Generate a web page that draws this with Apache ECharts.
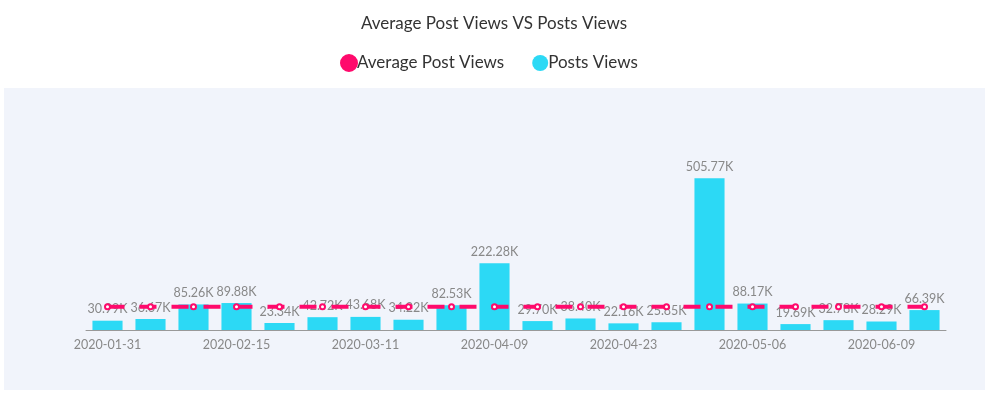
<!DOCTYPE html>
<html><head><meta charset="utf-8">
<script src="https://cdn.jsdelivr.net/npm/echarts@6/dist/echarts.min.js"></script>
<style>html,body{margin:0;padding:0;background:#fff}#c{width:988px;height:393px}</style>
</head><body><div id="c"></div>
<script>
var categories = ['2020-01-31','2020-02-05','2020-02-10','2020-02-15','2020-02-20','2020-02-28','2020-03-11','2020-03-20','2020-03-30','2020-04-09','2020-04-14','2020-04-18','2020-04-23','2020-04-28','2020-05-02','2020-05-06','2020-05-15','2020-05-28','2020-06-09','2020-06-20'];
var postsViews = [30.99,36.67,85.26,89.88,23.34,42.72,43.68,34.22,82.53,222.28,29.70,38.40,22.16,25.85,505.77,88.17,19.69,32.78,28.29,66.39];
var avgValue = 77.44;
var averageViews = categories.map(function(){return avgValue;});

var chart = echarts.init(document.getElementById('c'));
chart.setOption({
  backgroundColor:'#fff',
  textStyle:{fontFamily:'Lato'},
  graphic:[{type:'rect',left:4,top:88,z:-10,shape:{width:981,height:302},style:{fill:'#f1f4fb'},silent:true}],
  title:{text:'Average Post Views VS Posts Views',left:'center',top:10,textStyle:{fontFamily:'Lato',fontSize:17,fontWeight:'normal',color:'#333'}},
  legend:{top:49,left:335,itemGap:28,itemWidth:16,itemHeight:16,
    textStyle:{fontFamily:'Lato',fontSize:17,color:'#333',padding:[0,0,0,-5]},
    data:[{name:'Average Post Views',icon:'circle'},{name:'Posts Views',icon:'circle'}]},
  grid:{left:86,right:42,top:150,bottom:63},
  xAxis:{type:'category',data:categories,
    axisLine:{lineStyle:{color:'#999'}},
    axisTick:{alignWithLabel:true,interval:2,lineStyle:{color:'#999'}},
    axisLabel:{interval:2,color:'#888',fontSize:12.5,fontFamily:'Lato'}},
  yAxis:{type:'value',min:0,max:600,show:false,splitLine:{show:false}},
  series:[
    {name:'Average Post Views',type:'line',data:averageViews,z:5,
      lineStyle:{color:'#ff0a6c',width:4,type:[17,15]},
      itemStyle:{color:'#ff0a6c',borderColor:'#ff0a6c',borderWidth:1.5},
      symbol:'emptyCircle',symbolSize:5,
      label:{show:false}},
    {name:'Posts Views',type:'bar',data:postsViews,barCategoryGap:'30%',
      itemStyle:{color:'#2cd9f5'},
      label:{show:true,position:'top',color:'#888',fontSize:12.5,fontFamily:'Lato',
        formatter:function(p){return p.value.toFixed(2)+'K';}}}
  ]
});
</script></body></html>
